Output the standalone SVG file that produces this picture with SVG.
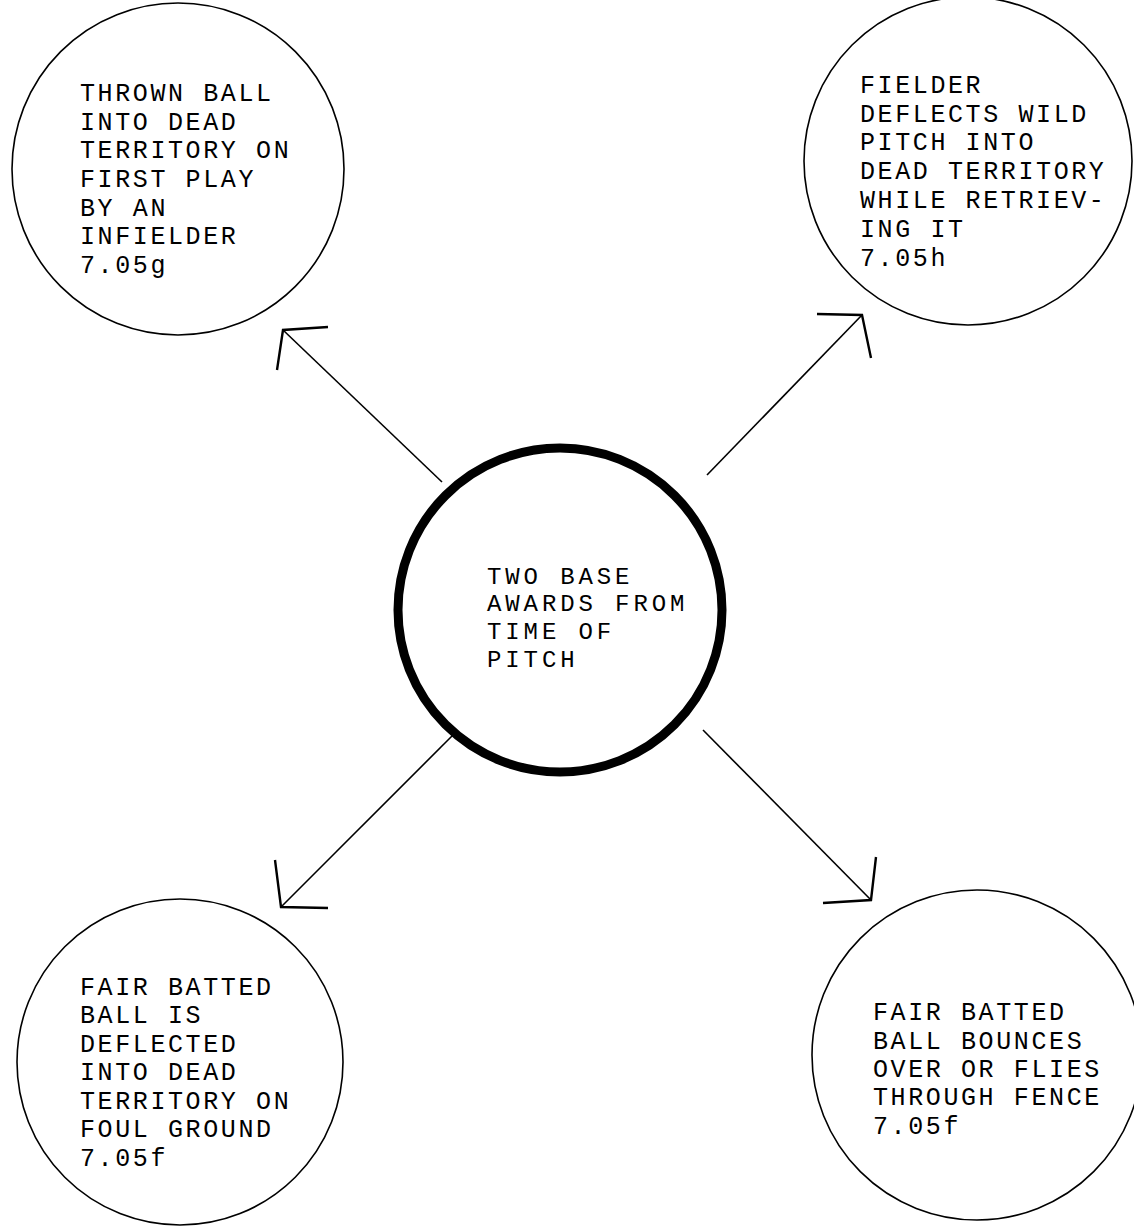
<svg xmlns="http://www.w3.org/2000/svg" width="1134" height="1226" viewBox="0 0 1134 1226">
<style>
.bg{fill:#fff}
.node{fill:#fff;stroke:#000;stroke-width:1.6}
.hub{fill:#fff;stroke:#000;stroke-width:9}
.t{font-family:"Liberation Mono","Courier New",monospace;font-size:25px;letter-spacing:2.6px;fill:#000}
.tc{font-family:"Liberation Mono","Courier New",monospace;font-size:24px;letter-spacing:3.9px;fill:#000}
.ln{fill:none;stroke:#000;stroke-width:1.6}
.hd{fill:none;stroke:#000;stroke-width:2.4;stroke-linejoin:miter}
</style>
<rect class="bg" x="0" y="0" width="1134" height="1226"/>
<g id="connectors">
<line class="ln" x1="442" y1="482" x2="283" y2="330"/>
<polyline class="hd" points="328,327 283,330 277,370"/>
<line class="ln" x1="707" y1="475" x2="862" y2="315"/>
<polyline class="hd" points="817,314 862,315 871,358"/>
<line class="ln" x1="455" y1="733" x2="281" y2="907"/>
<polyline class="hd" points="275,860 281,907 328,908"/>
<line class="ln" x1="703" y1="730" x2="871" y2="900"/>
<polyline class="hd" points="876,857 871,900 823,903"/>
</g>
<g id="hub">
<circle class="hub" cx="560" cy="610" r="162"/>
<path d="M420,690 A162,162 0 0 0 700,690" fill="none" stroke="#000" stroke-width="4" transform="translate(0,3)"/>
<text class="tc" x="487" y="584">TWO BASE</text>
<text class="tc" x="487" y="611">AWARDS FROM</text>
<text class="tc" x="487" y="639">TIME OF</text>
<text class="tc" x="487" y="667">PITCH</text>
</g>
<g id="node-7-05g">
<circle class="node" cx="178" cy="169" r="166"/>
<text class="t" x="80" y="101">THROWN BALL</text>
<text class="t" x="80" y="130">INTO DEAD</text>
<text class="t" x="80" y="158">TERRITORY ON</text>
<text class="t" x="80" y="187">FIRST PLAY</text>
<text class="t" x="80" y="216">BY AN</text>
<text class="t" x="80" y="244">INFIELDER</text>
<text class="t" x="80" y="273">7.05g</text>
</g>
<g id="node-7-05h">
<circle class="node" cx="968" cy="161" r="164"/>
<text class="t" x="860" y="93">FIELDER</text>
<text class="t" x="860" y="122">DEFLECTS WILD</text>
<text class="t" x="860" y="150">PITCH INTO</text>
<text class="t" x="860" y="179">DEAD TERRITORY</text>
<text class="t" x="860" y="208">WHILE RETRIEV-</text>
<text class="t" x="860" y="237">ING IT</text>
<text class="t" x="860" y="266">7.05h</text>
</g>
<g id="node-7-05f-foul">
<circle class="node" cx="180" cy="1062" r="163"/>
<text class="t" x="80" y="995">FAIR BATTED</text>
<text class="t" x="80" y="1023">BALL IS</text>
<text class="t" x="80" y="1052">DEFLECTED</text>
<text class="t" x="80" y="1080">INTO DEAD</text>
<text class="t" x="80" y="1109">TERRITORY ON</text>
<text class="t" x="80" y="1137">FOUL GROUND</text>
<text class="t" x="80" y="1166">7.05f</text>
</g>
<g id="node-7-05f-fence">
<circle class="node" cx="977" cy="1055" r="165"/>
<text class="t" x="873" y="1020">FAIR BATTED</text>
<text class="t" x="873" y="1049">BALL BOUNCES</text>
<text class="t" x="873" y="1077">OVER OR FLIES</text>
<text class="t" x="873" y="1105">THROUGH FENCE</text>
<text class="t" x="873" y="1134">7.05f</text>
</g>
</svg>
